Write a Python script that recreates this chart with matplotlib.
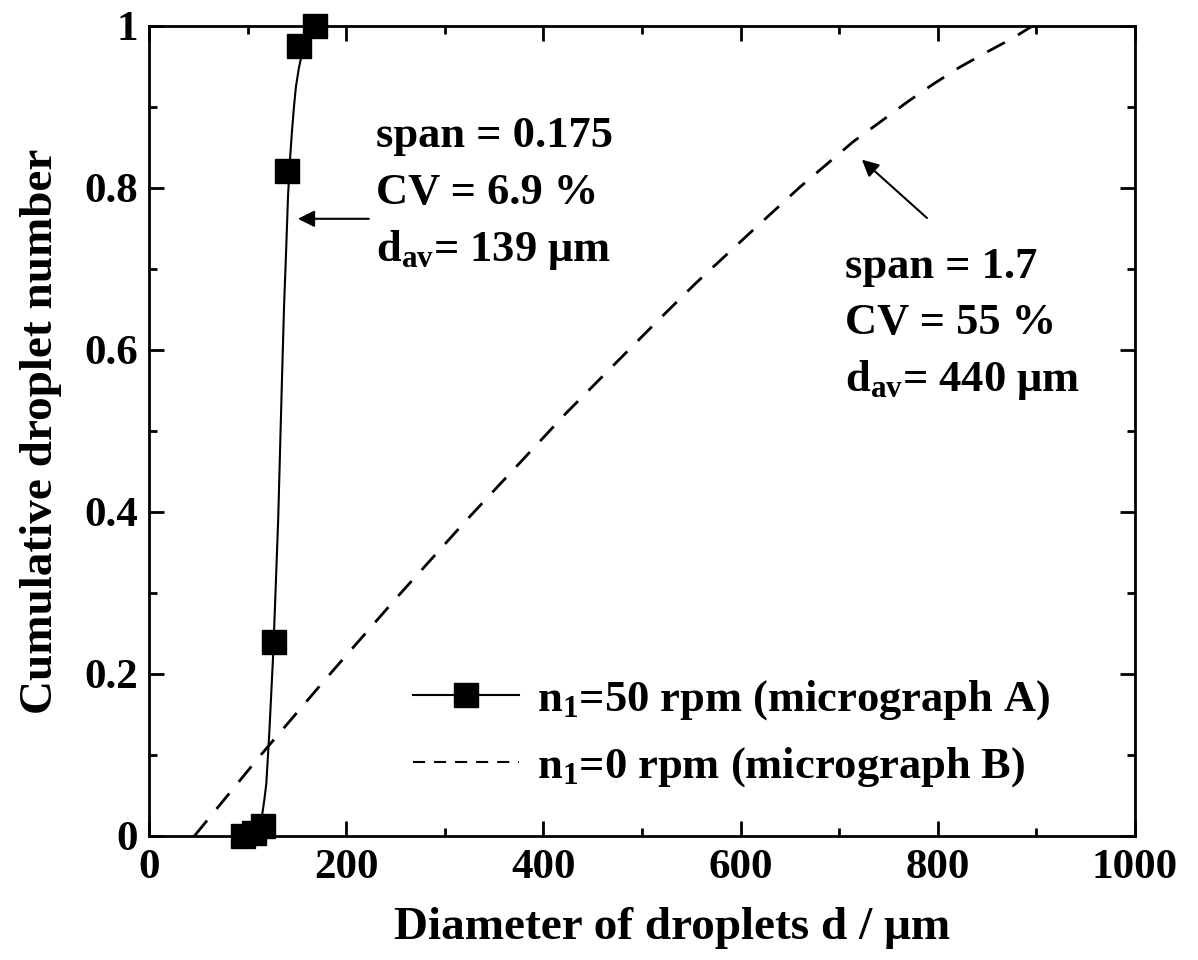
import matplotlib
matplotlib.use("Agg")
import matplotlib.pyplot as plt
from matplotlib.lines import Line2D
from matplotlib.ticker import MultipleLocator

# ---- data ----
marker_x = [95, 106, 116, 127, 140, 152, 168]
marker_y = [0.0, 0.004, 0.012, 0.24, 0.821, 0.975, 1.0]

fit_x = [96, 106, 112, 115, 117, 119, 122, 126, 128, 131, 133, 135, 137, 139, 141, 143, 145, 147, 149, 152, 155, 158, 162, 168]
fit_y = [0.0, 0.004, 0.012, 0.028, 0.045, 0.065, 0.127, 0.226, 0.291, 0.39, 0.48, 0.57, 0.655, 0.72, 0.79, 0.835, 0.87, 0.9, 0.925, 0.948, 0.965, 0.978, 0.99, 1.0]

dash_x = [46, 112, 180, 251, 322, 423, 515, 555, 609, 660, 714, 741, 770, 795, 822, 850, 876, 896]
dash_y = [0.0, 0.098, 0.195, 0.294, 0.39, 0.522, 0.635, 0.683, 0.744, 0.801, 0.857, 0.881, 0.907, 0.928, 0.949, 0.968, 0.985, 1.0]

x_ticks = [0, 200, 400, 600, 800, 1000]
y_ticks = [0, 0.2, 0.4, 0.6, 0.8, 1.0]
y_ticklabels = ["0", "0.2", "0.4", "0.6", "0.8", "1"]

label_A = r"n$_\mathregular{1}$=50 rpm (micrograph A)"
label_B = r"n$_\mathregular{1}$=0 rpm (micrograph B)"
text_A = ["span = 0.175", "CV = 6.9 %", r"d$_\mathregular{av}$= 139 μm"]
text_B = ["span = 1.7", "CV = 55 %", r"d$_\mathregular{av}$= 440 μm"]

# ---- style ----
plt.rcParams['font.family'] = ['Liberation Serif', 'DejaVu Serif']
plt.rcParams['font.weight'] = 'bold'
plt.rcParams['mathtext.fontset'] = 'custom'
plt.rcParams['mathtext.rm'] = 'Liberation Serif:bold'
plt.rcParams['mathtext.it'] = 'Liberation Serif:italic:bold'
plt.rcParams['mathtext.bf'] = 'Liberation Serif:bold'

FS = 32
FS_TICK = 31
FS_LAB = 34

fig = plt.figure(figsize=(11.98, 9.6), dpi=100)
ax = fig.add_axes([149/1198, 1-836/960, (1135-149)/1198, (836-26)/960])

ax.plot(fit_x, fit_y, color='black', lw=1.5, zorder=3)
ax.plot(marker_x, marker_y, linestyle='none', marker='s', ms=17,
        color='black', clip_on=False, zorder=4)
ax.plot(dash_x, dash_y, color='black', lw=2.0, linestyle=(0, (7.2, 5.4)), zorder=2)

ax.set_xlim(0, 1000)
ax.set_ylim(0, 1)
ax.set_xticks(x_ticks)
ax.set_xticklabels([str(v) for v in x_ticks])
ax.set_yticks(y_ticks)
ax.set_yticklabels(y_ticklabels)
ax.xaxis.set_minor_locator(MultipleLocator(100))
ax.yaxis.set_minor_locator(MultipleLocator(0.1))
ax.tick_params(which='both', direction='in', top=True, right=True, width=2,
               labelsize=FS_TICK)
ax.tick_params(which='major', length=11)
ax.tick_params(which='minor', length=6)
ax.tick_params(axis='x', pad=9)
ax.tick_params(axis='y', pad=8)
for s in ax.spines.values():
    s.set_linewidth(2)

ax.set_xlabel("Diameter of droplets d / μm", fontsize=FS_LAB, fontweight='bold')
ax.xaxis.set_label_coords(0.53, -0.088)
ax.set_ylabel("Cumulative droplet number", fontsize=FS_LAB, fontweight='bold', labelpad=16)

# annotations
for i, t in enumerate(text_A):
    ax.text(230, 0.864 - i*0.07, t, fontsize=FS, fontweight='bold', va='center', ha='left')
for i, t in enumerate(text_B):
    ax.text(706, 0.703 - i*0.07, t, fontsize=FS, fontweight='bold', va='center', ha='left')

ax.annotate("", xy=(151, 0.762), xytext=(223, 0.762),
            arrowprops=dict(arrowstyle='-|>', color='black', lw=1.5,
                            mutation_scale=25, shrinkA=0, shrinkB=0))
ax.annotate("", xy=(723, 0.835), xytext=(789, 0.763),
            arrowprops=dict(arrowstyle='-|>', color='black', lw=1.5,
                            mutation_scale=25, shrinkA=0, shrinkB=0))

hA = Line2D([], [], color='black', lw=1.5, marker='s', ms=17)
hB = Line2D([], [], color='black', lw=1.5, linestyle=(0, (5.8, 4.3)))
leg = ax.legend([hA, hB], [label_A, label_B], loc='upper left',
                bbox_to_anchor=(0.245, 0.222), frameon=False, fontsize=FS,
                handlelength=2.4, handletextpad=0.4, borderpad=0,
                labelspacing=0.52)

fig.savefig("out.png", dpi=100)
